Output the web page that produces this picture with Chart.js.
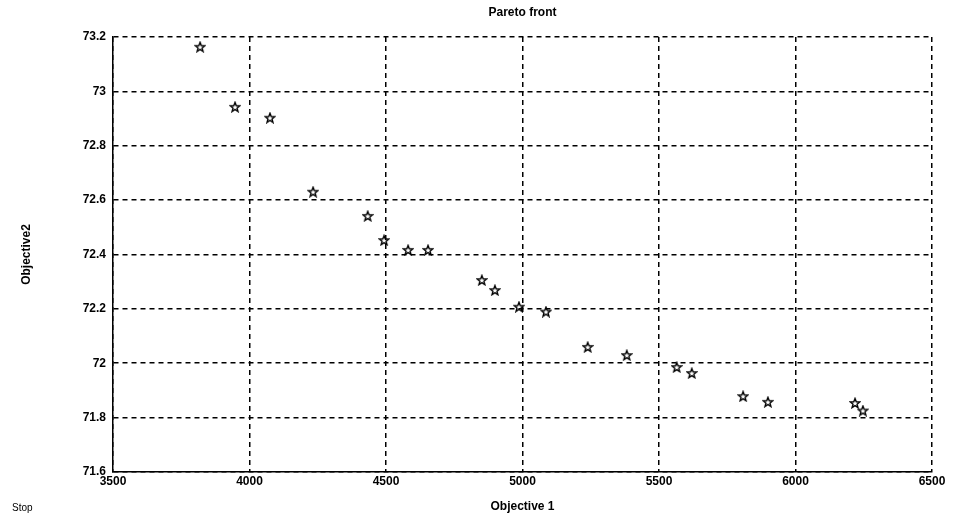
<!DOCTYPE html>
<html>
<head>
<meta charset="utf-8">
<title>Pareto front</title>
<script src="https://cdn.jsdelivr.net/npm/chart.js@4/dist/chart.umd.min.js"></script>
<style>
  html, body { margin: 0; padding: 0; background: #fff; }
  #wrap { width: 956px; height: 519px; position: relative; }
</style>
</head>
<body>
<div id="wrap"><canvas id="pareto"></canvas></div>
<script>
// objective values of the non-dominated solutions
const objective1 = [3819, 3947, 4075, 4233, 4433, 4493, 4581, 4654, 4851, 4899,
                    4987, 5086, 5239, 5382, 5565, 5620, 5808, 5899, 6218, 6247];
const objective2 = [73.164, 72.943, 72.903, 72.631, 72.542, 72.453, 72.417, 72.417, 72.306, 72.269,
                    72.208, 72.190, 72.060, 72.030, 71.986, 71.964, 71.879, 71.858, 71.854, 71.826];

const xTicks = [3500, 4000, 4500, 5000, 5500, 6000, 6500];
const yTicks = [71.6, 71.8, 72, 72.2, 72.4, 72.6, 72.8, 73, 73.2];

const points = objective1.map((x, i) => ({ x: x, y: objective2[i] }));

// hollow five-pointed star used as the marker
function pentagram(size) {
  const c = document.createElement("canvas");
  c.width = size; c.height = size;
  const g = c.getContext("2d");
  const cx = size / 2, cy = size / 2 + 0.5, R = size / 2 - 1, r = R * 0.42;
  g.beginPath();
  for (let k = 0; k < 10; k++) {
    const a = -Math.PI / 2 + k * Math.PI / 5;
    const rad = k % 2 === 0 ? R : r;
    const px = cx + rad * Math.cos(a), py = cy + rad * Math.sin(a);
    if (k === 0) g.moveTo(px, py); else g.lineTo(px, py);
  }
  g.closePath();
  g.lineWidth = 1.4;
  g.strokeStyle = "#000";
  g.stroke();
  return c;
}

const FONT = "'Liberation Sans', Arial, sans-serif";

// title, axis names and the button caption
const labelsPlugin = {
  id: "labels",
  afterDraw(chart) {
    const ctx = chart.ctx;
    const a = chart.chartArea;
    ctx.save();
    ctx.fillStyle = "#000";
    ctx.font = "bold 12px " + FONT;
    ctx.textAlign = "center";
    ctx.textBaseline = "middle";
    ctx.fillText("Pareto front", (a.left + a.right) / 2, 13);
    ctx.fillText("Objective 1", (a.left + a.right) / 2, 507);
    ctx.save();
    ctx.translate(27, (a.top + a.bottom) / 2);
    ctx.rotate(-Math.PI / 2);
    ctx.fillText("Objective2", 0, 0);
    ctx.restore();
    ctx.font = "10px " + FONT;
    ctx.textAlign = "left";
    ctx.fillText("Stop", 12, 508);
    ctx.restore();
  }
};

// dashed grid, solid axis lines (border.dash only dashes the grid in v4)
const gridStyle = { color: "#000", lineWidth: 1.5, drawTicks: false };
const borderStyle = { display: true, color: "#000", width: 1.5, dash: [5, 4] };

new Chart("pareto", {
  type: "scatter",
  data: {
    datasets: [{
      data: points,
      pointStyle: pentagram(12),
      pointRadius: 6,
      pointHoverRadius: 6
    }]
  },
  options: {
    responsive: true,
    maintainAspectRatio: false,
    animation: false,
    layout: { padding: { top: 37, right: 24, bottom: 0, left: 0 } },
    plugins: {
      legend: { display: false },
      title: { display: false },
      tooltip: { enabled: false }
    },
    scales: {
      x: {
        type: "linear",
        min: 3500,
        max: 6500,
        afterBuildTicks: s => { s.ticks = xTicks.map(v => ({ value: v })); },
        afterFit: s => { s.height = 47; },
        ticks: {
          color: "#000",
          font: { family: FONT, size: 12, weight: "bold" },
          padding: 2,
          maxRotation: 0,
          callback: v => String(v)
        },
        grid: gridStyle,
        border: borderStyle
      },
      y: {
        type: "linear",
        min: 71.6,
        max: 73.2,
        afterBuildTicks: s => { s.ticks = yTicks.map(v => ({ value: v })); },
        afterFit: s => { s.width = 113; },
        ticks: {
          color: "#000",
          font: { family: FONT, size: 12, weight: "bold" },
          padding: 7,
          callback: v => String(Math.round(v * 10) / 10)
        },
        grid: gridStyle,
        border: borderStyle
      }
    }
  },
  plugins: [labelsPlugin]
});
</script>
</body>
</html>
